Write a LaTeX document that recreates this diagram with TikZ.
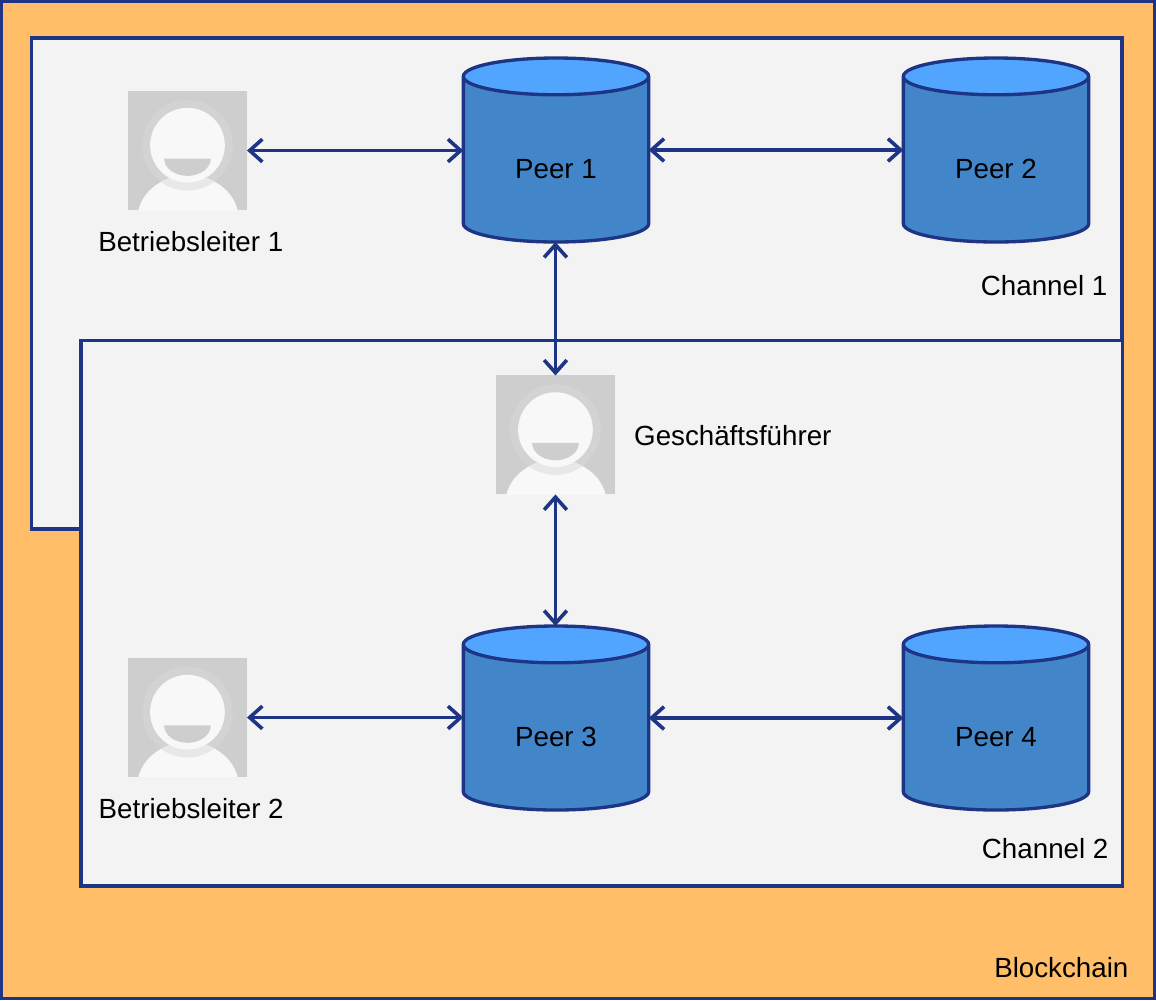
\documentclass[tikz,border=0pt]{standalone}
\usepackage{fontspec}
\setmainfont{Liberation Sans}
\usetikzlibrary{arrows.meta,positioning}
\usetikzlibrary{shapes.geometric}
\definecolor{rahmen}{HTML}{1E3484}
\definecolor{block}{HTML}{FFBE67}
\definecolor{kanal}{HTML}{F3F3F3}
\definecolor{koerper}{HTML}{4285C9}
\definecolor{deckel}{HTML}{52A5FF}
\definecolor{grau}{HTML}{CECECE}
\definecolor{halo}{HTML}{D3D3D3}
\definecolor{hell}{HTML}{F8F8F8}
\tikzset{
	%Define standard arrow tip
	>={Straight Barb[length=9.5pt,width=17pt,line width=2.7pt]},
	%Define style for the frames
	kasten/.style={
		rectangle,
		draw=rahmen, line width=2.5pt,
		outer sep=0pt},
	%Define style for the cylinders
	peer/.style={
		cylinder,
		shape border rotate=90,
		aspect=0.45,
		cylinder uses custom fill,
		cylinder body fill=koerper,
		cylinder end fill=deckel,
		draw=rahmen, line width=2.5pt,
		minimum width=139pt,
		minimum height=138pt,
		outer sep=0pt,
		text height=27.5pt,
		text depth=0pt,
		anchor=shape center},
	%Define style for the person icons
	person/.style={
		rectangle,
		fill=grau,
		minimum width=89.25pt,
		minimum height=89.25pt,
		outer sep=0pt,
		path picture={
			\fill[halo] ([yshift=4pt]path picture bounding box.center) circle (34pt);
			\fill[hell] ([xshift=0.4pt,yshift=-51.5pt]path picture bounding box.center) ellipse (38pt and 33pt);
			\begin{scope}
				\clip ([xshift=0.4pt,yshift=-51.5pt]path picture bounding box.center) ellipse (38pt and 33pt);
				\fill[black!9] ([yshift=4pt]path picture bounding box.center) circle (34pt);
			\end{scope}
			\fill[hell] ([yshift=4pt]path picture bounding box.center) circle (28pt);
			\fill[grau] ([xshift=-17.5pt,yshift=-6pt]path picture bounding box.center)
				arc[start angle=180,end angle=360,x radius=17.5pt,y radius=13pt] -- cycle;
		}},
	% Define arrow style
	pil/.style={
		<->,
		draw=rahmen,
		line width=2.7pt},
	schrift/.style={
		font=\fontsize{20.8pt}{24pt}\selectfont,
		text=black,
		inner sep=0pt}
}
\begin{document}
\begin{tikzpicture}
	\useasboundingbox (0,0) rectangle (867pt,-750pt);

	\node[kasten,fill=block,minimum width=865pt,minimum height=748pt] (blockchain) at (433.5pt,-375pt) {};
	\node[kasten,fill=kanal,anchor=north west,minimum width=818pt,minimum height=368.4pt] (channel1) at (23.6pt,-28.4pt) {};
	\node[kasten,fill=kanal,anchor=north west,minimum width=781pt,minimum height=409pt] (channel2) at (60.8pt,-255.4pt) {};

	\node[peer,schrift] (peer1) at (417pt,-112.5pt) {Peer 1};
	\node[peer,schrift,right = 330pt of peer1.shape center,anchor=shape center] (peer2) {Peer 2};
	\node[peer,schrift,below = 426pt of peer1.shape center,anchor=shape center] (peer3) {Peer 3};
	\node[peer,schrift,right = 330pt of peer3.shape center,anchor=shape center] (peer4) {Peer 4};

	\node[person] (user1) at (140.6pt,-112.9pt) {};
	\node[person] (user3) at (140.6pt,-538.1pt) {};
	\node[person] (user2) at (416.6pt,-326.2pt) {};

	\node[schrift,below = 15.5pt of user1,xshift=2.5pt] (name1) {Betriebsleiter 1};
	\node[schrift,below = 15.5pt of user3,xshift=2.8pt] (name3) {Betriebsleiter 2};
	\node[schrift,right = 14.2pt of user2,yshift=-0.8pt] (name2) {Geschäftsführer};

	\node[schrift,anchor=base east] (label1) at (830.7pt,-221.5pt) {Channel 1};
	\node[schrift,anchor=base east] (label2) at (831.5pt,-643.5pt) {Channel 2};
	\node[schrift,anchor=base east] (label0) at (846.5pt,-733pt) {Blockchain};

	\path[every edge/.style={draw,pil}]
	(user1.east) edge (user1.east -| peer1.west)
	(peer1.shape center -| peer1.east) edge (peer1.shape center -| peer2.west)
	(user3.east) edge (user3.east -| peer3.west)
	(peer3.shape center -| peer3.east) edge (peer3.shape center -| peer4.west)
	(user2.north |- peer1.bottom) edge (user2.north)
	(user2.south) edge (user2.south |- peer3.top)
	;
\end{tikzpicture}
\end{document}
